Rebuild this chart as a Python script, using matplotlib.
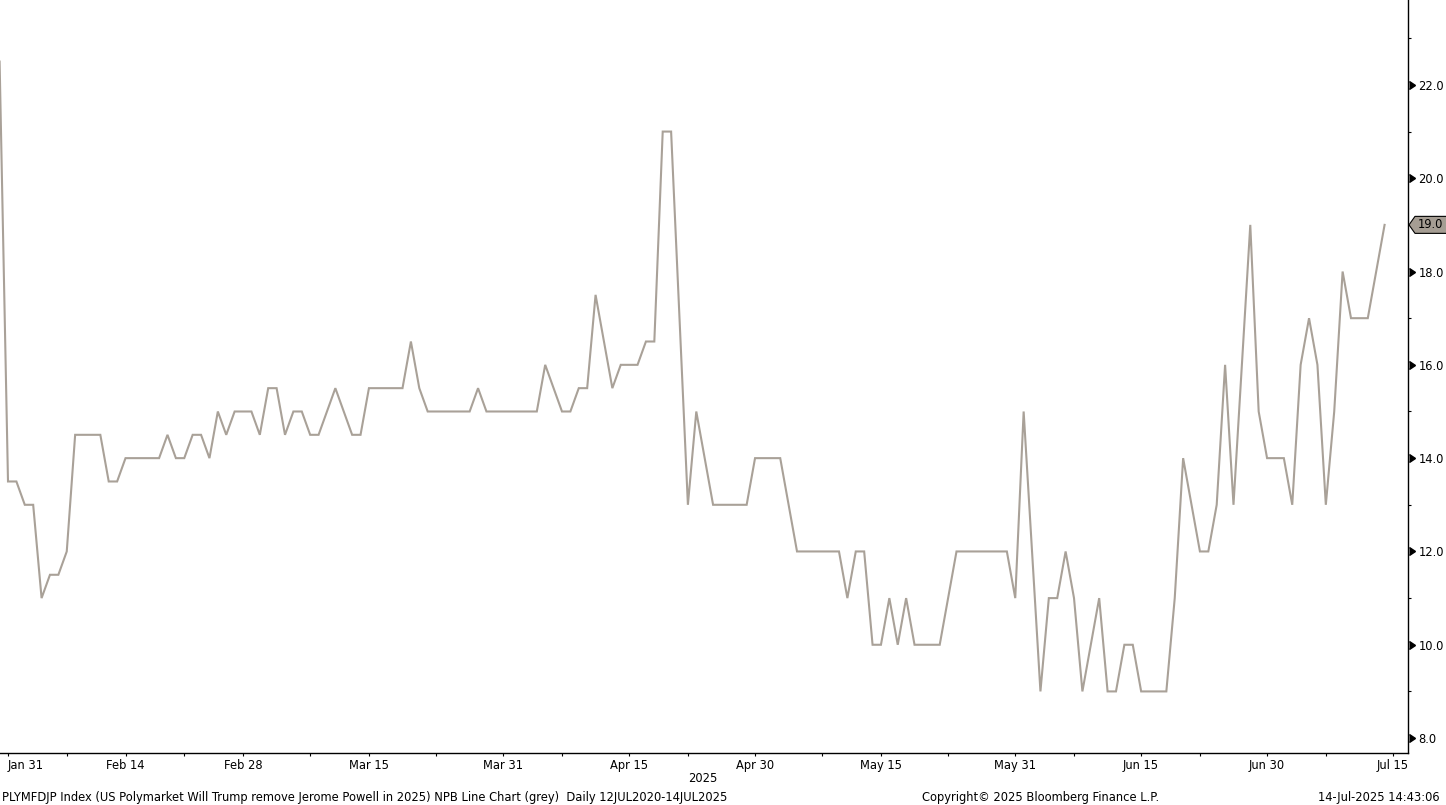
import numpy as np
import pandas as pd
import matplotlib
matplotlib.use("Agg")
import matplotlib.pyplot as plt
import matplotlib.dates as mdates
import matplotlib.transforms as mtransforms
from matplotlib.patches import Polygon

# daily series, 30 Jan 2025 .. 14 Jul 2025
start = "2025-01-30"
values = [
    22.5,
    13.5, 13.5, 13.0, 13.0, 11.0, 11.5, 11.5, 12.0, 14.5, 14.5,
    14.5, 14.5, 13.5, 13.5, 14.0, 14.0, 14.0, 14.0, 14.0, 14.5,
    14.0, 14.0, 14.5, 14.5, 14.0, 15.0, 14.5, 15.0, 15.0, 15.0,
    14.5, 15.5, 15.5, 14.5, 15.0, 15.0, 14.5, 14.5, 15.0, 15.5,
    15.0, 14.5, 14.5, 15.5, 15.5, 15.5, 15.5, 15.5, 16.5, 15.5,
    15.0, 15.0, 15.0, 15.0, 15.0, 15.0, 15.5, 15.0, 15.0, 15.0,
    15.0, 15.0, 15.0, 15.0, 16.0, 15.5, 15.0, 15.0, 15.5, 15.5,
    17.5, 16.5, 15.5, 16.0, 16.0, 16.0, 16.5, 16.5, 21.0, 21.0,
    17.0, 13.0, 15.0, 14.0, 13.0, 13.0, 13.0, 13.0, 13.0, 14.0,
    14.0, 14.0, 14.0, 13.0, 12.0, 12.0, 12.0, 12.0, 12.0, 12.0,
    11.0, 12.0, 12.0, 10.0, 10.0, 11.0, 10.0, 11.0, 10.0, 10.0,
    10.0, 10.0, 11.0, 12.0, 12.0, 12.0, 12.0, 12.0, 12.0, 12.0,
    11.0, 15.0, 12.0, 9.0, 11.0, 11.0, 12.0, 11.0, 9.0, 10.0,
    11.0, 9.0, 9.0, 10.0, 10.0, 9.0, 9.0, 9.0, 9.0, 11.0,
    14.0, 13.0, 12.0, 12.0, 13.0, 16.0, 13.0, 16.0, 19.0, 15.0,
    14.0, 14.0, 14.0, 13.0, 16.0, 17.0, 16.0, 13.0, 15.0, 18.0,
    17.0, 17.0, 17.0, 18.0, 19.0,
]
dates = pd.date_range(start, periods=len(values), freq="D")

tick_dates = ["2025-01-31", "2025-02-14", "2025-02-28", "2025-03-15", "2025-03-31",
              "2025-04-15", "2025-04-30", "2025-05-15", "2025-05-31", "2025-06-15",
              "2025-06-30", "2025-07-15"]
tick_labels = ["Jan 31", "Feb 14", "Feb 28", "Mar 15", "Mar 31", "Apr 15",
               "Apr 30", "May 15", "May 31", "Jun 15", "Jun 30", "Jul 15"]
minor_dates = ["2025-02-07", "2025-02-21", "2025-03-08", "2025-03-23", "2025-04-07",
               "2025-04-22", "2025-05-08", "2025-05-23", "2025-06-07", "2025-06-22",
               "2025-07-07"]
y_major = [8, 10, 12, 14, 16, 18, 20, 22]
y_minor = [9, 11, 13, 15, 17, 19, 21, 23]

line_color = "#a9a198"
font = "DejaVu Sans"
fs = 8.3

fig = plt.figure(figsize=(14.46, 8.05), dpi=100)
ax = fig.add_axes([0, 52 / 805, 1408 / 1446, 753 / 805])

ax.plot(dates, values, color=line_color, lw=1.5, solid_joinstyle="miter")

x0 = pd.Timestamp("2025-01-31")
ax.set_xlim(mdates.date2num(x0) - 0.953, mdates.date2num(x0) + 166.79)
ax.set_ylim(7.68, 23.82)

for s in ["left", "top"]:
    ax.spines[s].set_visible(False)
for s in ["right", "bottom"]:
    ax.spines[s].set_color("black")
    ax.spines[s].set_linewidth(1.0)

# x axis
ax.set_xticks([mdates.date2num(pd.Timestamp(d)) for d in tick_dates])
ax.set_xticklabels(tick_labels, fontfamily=font, fontsize=fs)
ax.set_xticks([mdates.date2num(pd.Timestamp(d)) for d in minor_dates], minor=True)
ax.tick_params(axis="x", which="both", direction="out", length=2.5, width=0.8,
               pad=1.5, color="black")
ax.get_xticklabels()[0].set_horizontalalignment("left")

# y axis on the right
ax.yaxis.tick_right()
ax.set_yticks(y_major)
ax.set_yticklabels([f"{v:.1f}" for v in y_major], fontfamily=font, fontsize=fs)
ax.set_yticks(y_minor, minor=True)
ax.tick_params(axis="y", which="major", length=0, pad=7.5)
ax.tick_params(axis="y", which="minor", direction="out", length=2.2, width=0.8,
               color="black")
bt = mtransforms.blended_transform_factory(ax.transAxes, ax.transData)
caret_tr = bt + mtransforms.ScaledTranslation(7 / 100, 0, fig.dpi_scale_trans)
ax.plot([1.0] * len(y_major), y_major, linestyle="none", marker=5, markersize=6,
        color="black", transform=caret_tr, clip_on=False)

# last value tag
last = values[-1]
fig.canvas.draw()
ax_x, ax_y = bt.transform((1.0, last))
h = 8.5
verts = [(ax_x + 1, ax_y), (ax_x + 7, ax_y + h), (ax_x + 40, ax_y + h),
         (ax_x + 40, ax_y - h), (ax_x + 7, ax_y - h)]
tag = Polygon(verts, closed=True, facecolor="#a59d93", edgecolor="black", lw=0.8,
              transform=mtransforms.IdentityTransform(), zorder=5)
fig.add_artist(tag)
fig.text((ax_x + 10) / fig.bbox.width, ax_y / fig.bbox.height, f"{last:.1f}",
         fontfamily=font, fontsize=fs, ha="left", va="center", color="black", zorder=6)

# footer
fig.text(703 / 1446, 1 - 778 / 805, "2025", fontfamily=font, fontsize=fs,
         ha="center", va="center")
fig.text(2 / 1446, 1 - 797 / 805,
         "PLYMFDJP Index (US Polymarket Will Trump remove Jerome Powell in 2025) "
         "NPB Line Chart (grey)  Daily 12JUL2020-14JUL2025",
         fontfamily=font, fontsize=fs, ha="left", va="center")
fig.text(922 / 1446, 1 - 797 / 805, "Copyright\u00a9 2025 Bloomberg Finance L.P.",
         fontfamily=font, fontsize=fs, ha="left", va="center")
fig.text(1440 / 1446, 1 - 797 / 805, "14-Jul-2025 14:43:06",
         fontfamily=font, fontsize=fs, ha="right", va="center")

fig.savefig("out.png", dpi=100, facecolor="white")
